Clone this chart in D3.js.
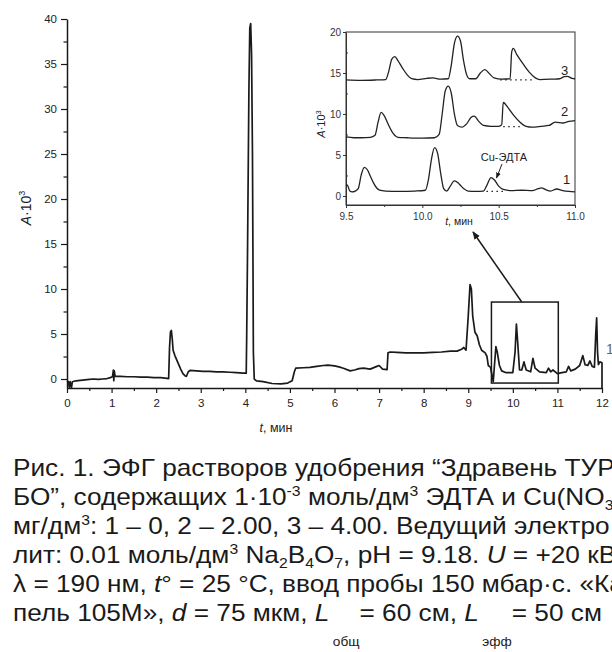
<!DOCTYPE html>
<html><head><meta charset="utf-8">
<script src="https://cdn.jsdelivr.net/npm/d3@7"></script>
<style>
body{margin:0;background:#fff;}
svg{display:block;font-family:"Liberation Sans",Arial,sans-serif;}
</style></head>
<body>
<svg id="c" width="612" height="652"></svg>
<script>
// ---- Data ----
const mainTrace = [
[0.00,-0.2],[0.03,-0.3],[0.05,-0.9],[0.07,-0.3],[0.10,-1.0],[0.12,-0.3],[0.2,-0.2],[0.3,-0.15],[0.4,-0.1],[0.5,-0.05],[0.6,0.0],[0.7,-0.05],[0.8,0.0],[0.9,0.05],[0.97,0.15],[1.02,0.25],[1.04,1.0],[1.05,-0.2],[1.06,0.9],[1.08,0.3],[1.2,0.3],[1.35,0.25],[1.5,0.25],[1.65,0.2],[1.8,0.2],[1.95,0.15],[2.1,0.15],[2.2,0.1],[2.28,0.05],[2.30,3.5],[2.32,5.2],[2.34,5.4],[2.36,4.5],[2.38,3.2],[2.42,2.6],[2.48,1.9],[2.55,1.1],[2.60,0.6],[2.65,0.35],[2.68,0.3],[2.72,0.8],[2.76,0.95],[2.9,0.9],[3.05,0.85],[3.2,0.85],[3.35,0.8],[3.5,0.8],[3.65,0.75],[3.8,0.7],[3.95,0.65],[4.02,0.65],[4.03,4.5],[4.05,14.5],[4.08,32],[4.10,39],[4.12,39.5],[4.14,36],[4.16,25],[4.17,14.5],[4.18,3],[4.20,0.0],[4.25,-0.2],[4.4,-0.3],[4.6,-0.5],[4.8,-0.55],[4.95,-0.45],[5.05,-0.2],[5.10,0.8],[5.13,1.2],[5.3,1.25],[5.45,1.3],[5.6,1.4],[5.75,1.5],[5.85,1.55],[6.0,1.45],[6.1,1.35],[6.2,1.2],[6.35,0.9],[6.45,1.0],[6.55,1.15],[6.65,1.2],[6.8,1.1],[6.95,1.4],[7.0,1.5],[7.08,1.1],[7.18,1.05],[7.20,2.9],[7.25,3.0],[7.4,2.95],[7.6,2.9],[7.8,2.9],[8.0,2.9],[8.2,2.95],[8.4,3.0],[8.6,3.1],[8.75,3.1],[8.85,3.3],[8.9,3.5],[8.95,3.2],[9.0,7.0],[9.04,10.5],[9.07,10.0],[9.10,7.0],[9.15,5.2],[9.20,4.8],[9.25,3.8],[9.30,3.2],[9.38,2.9],[9.42,2.5],[9.45,1.5],[9.50,1.3],[9.53,0.5],[9.56,-0.3],[9.58,1.0],[9.62,3.6],[9.65,3.0],[9.70,1.5],[9.75,0.9],[9.85,0.7],[10.0,0.7],[10.05,3.0],[10.08,6.1],[10.11,4.0],[10.15,1.0],[10.20,1.0],[10.25,1.9],[10.30,1.0],[10.40,0.8],[10.45,2.3],[10.50,1.2],[10.60,0.8],[10.75,0.7],[10.80,1.2],[10.85,0.8],[10.90,1.0],[11.0,0.6],[11.1,0.7],[11.2,0.8],[11.25,1.4],[11.30,0.9],[11.40,1.1],[11.50,1.5],[11.57,2.6],[11.62,1.6],[11.68,1.5],[11.73,2.0],[11.78,1.4],[11.83,1.3],[11.86,5.0],[11.88,6.8],[11.90,3.0],[11.92,1.6],[11.95,1.9],[12.0,1.8],[12.0,-1.0]
];
const inset1 = [
[9.50,1.4],[9.51,1.3],[9.525,0.6],[9.54,0.5],[9.56,0.6],[9.58,0.9],[9.60,2.6],[9.62,3.5],[9.64,3.2],[9.66,2.4],[9.68,1.6],[9.70,1.0],[9.72,0.7],[9.76,0.6],[9.85,0.55],[9.95,0.6],[10.02,0.7],[10.04,2.0],[10.06,4.5],[10.08,5.9],[10.10,5.2],[10.12,2.8],[10.14,0.9],[10.16,0.6],[10.18,1.1],[10.21,1.85],[10.24,1.5],[10.27,0.9],[10.30,0.6],[10.35,0.55],[10.40,0.6],[10.42,1.2],[10.45,2.25],[10.47,2.0],[10.50,1.2],[10.53,0.8],[10.58,0.65],[10.65,0.7],[10.72,0.65],[10.76,0.9],[10.78,1.0],[10.81,0.75],[10.84,0.6],[10.88,0.85],[10.92,0.65],[10.96,0.55],[11.0,0.5]
];
const inset2 = [
[9.50,7.2],[9.55,7.1],[9.60,7.1],[9.66,7.15],[9.69,7.4],[9.71,9.0],[9.73,10.2],[9.75,9.8],[9.78,8.6],[9.81,7.6],[9.84,7.15],[9.90,7.1],[10.0,7.05],[10.08,7.1],[10.11,7.5],[10.13,10.0],[10.15,12.8],[10.17,13.4],[10.19,12.5],[10.21,10.0],[10.23,8.6],[10.26,8.4],[10.29,8.8],[10.32,9.6],[10.34,9.75],[10.37,9.1],[10.40,8.6],[10.45,8.5],[10.50,8.5],[10.52,8.7],[10.53,11.4],[10.56,10.8],[10.60,9.8],[10.64,9.0],[10.68,8.5],[10.72,8.4],[10.78,8.5],[10.83,8.6],[10.87,9.0],[10.92,8.9],[10.96,9.1],[11.0,9.2]
];
const inset3 = [
[9.50,14.15],[9.60,14.1],[9.70,14.15],[9.76,14.2],[9.78,15.2],[9.80,16.7],[9.82,17.0],[9.84,16.5],[9.87,15.6],[9.90,14.8],[9.93,14.3],[9.97,14.2],[10.03,14.35],[10.07,14.4],[10.12,14.25],[10.17,14.3],[10.19,16.0],[10.21,18.6],[10.23,19.5],[10.25,18.9],[10.27,16.5],[10.29,14.8],[10.31,14.3],[10.35,14.3],[10.38,15.0],[10.41,15.4],[10.44,14.9],[10.47,14.4],[10.52,14.25],[10.575,14.3],[10.585,17.5],[10.595,18.0],[10.62,17.2],[10.66,16.1],[10.70,15.1],[10.74,14.4],[10.77,14.2],[10.85,14.25],[10.90,14.3],[10.93,14.55],[10.95,14.6],[10.98,14.35],[11.0,14.3]
];
const insetSeries = [inset1, inset2, inset3];
const insetLabels = ["1","2","3"];
const dottedBase = [[10.42,10.53,0.55],[10.53,10.64,8.45],[10.51,10.72,14.15]];
const mainYTicks = [0,5,10,15,20,25,30,35,40];
const mainXTicks = [0,1,2,3,4,5,6,7,8,9,10,11,12];
const insetYTicks = [0,5,10,15,20];
const insetXTicks = [9.5,10.0,10.5,11.0];
const zoomBox = {t0:9.52, t1:11.02, a0:-0.45, a1:8.55};

// caption lines: segments [kind, text]; n=normal, i=italic, p=superscript, b=subscript, s=low subscript
const captionLines = [
  [["n","Рис. 1. ЭФГ растворов удобрения “Здравень ТУР"]],
  [["n","БО”, содержащих 1·10"],["p","-3"],["n"," моль/дм"],["p","3"],["n"," ЭДТА и Cu(NO"],["b","3"],["n",")"],["b","2"]],
  [["n","мг/дм"],["p","3"],["n",": 1 – 0, 2 – 2.00, 3 – 4.00.   Ведущий электро"]],
  [["n","лит: 0.01 моль/дм"],["p","3"],["n"," Na"],["b","2"],["n","B"],["b","4"],["n","O"],["b","7"],["n",", pH = 9.18. "],["i","U"],["n"," = +20 кВ"]],
  [["n","λ = 190 нм, "],["i","t"],["n","° = 25 °C, ввод пробы 150 мбар·с. «Ка"]],
  [["n","пель 105М», "],["i","d"],["n"," = 75 мкм, "],["i","L"],["s","общ"],["n","= 60 см, "],["i","L"],["s","эфф"],["n","= 50 см"]]
];

// ---- Setup ----
const svg = d3.select("#c");
const ink = "#1a1a1a";

const x = d3.scaleLinear().domain([0,12]).range([67,602]);
const y = d3.scaleLinear().domain([-1,40]).range([388,19]);

const gx = svg.append("g").attr("transform","translate(0,388)")
  .call(d3.axisBottom(x).tickValues(mainXTicks).tickSize(5).tickSizeOuter(0).tickFormat(d3.format("d")));
svg.append("g").attr("transform","translate(0,388)")
  .call(d3.axisBottom(x).tickValues(d3.range(0.5,12,1)).tickSize(3).tickFormat("")).select(".domain").remove();
const gy = svg.append("g").attr("transform","translate(67,0)")
  .call(d3.axisLeft(y).tickValues(mainYTicks).tickSize(6).tickSizeOuter(0).tickFormat(d3.format("d")));
svg.append("g").attr("transform","translate(67,0)")
  .call(d3.axisLeft(y).tickValues(d3.range(2.5,40,5)).tickSize(3.5).tickFormat("")).select(".domain").remove();
svg.selectAll(".tick line").attr("stroke",ink).attr("stroke-width",1.2);
svg.selectAll(".domain").attr("stroke",ink).attr("stroke-width",1.5);
gx.selectAll("text").attr("font-size",11.5).attr("fill","#222").attr("dy","0.95em");
gy.selectAll("text").attr("font-size",11.5).attr("fill","#222").attr("x",-10);
svg.selectAll(".tick text").attr("font-family","Liberation Sans, Arial, sans-serif");

svg.append("path").datum(mainTrace)
  .attr("d", d3.line().x(d=>x(d[0])).y(d=>y(d[1])))
  .attr("fill","none").attr("stroke",ink).attr("stroke-width",1.7).attr("stroke-linejoin","round");

const yl = svg.append("text").attr("transform","translate(31,208) rotate(-90)")
  .attr("text-anchor","middle").attr("font-size",14).attr("fill","#222");
yl.append("tspan").attr("font-style","italic").text("A");
yl.append("tspan").text("·10");
yl.append("tspan").attr("font-size",9).attr("dy",-6).text("3");

const xl = svg.append("text").attr("x",276).attr("y",432).attr("text-anchor","middle").attr("font-size",12.5).attr("fill","#222");
xl.append("tspan").attr("font-style","italic").text("t");
xl.append("tspan").text(", мин");

svg.append("rect").attr("x",x(zoomBox.t0)).attr("y",y(zoomBox.a1))
  .attr("width",x(zoomBox.t1)-x(zoomBox.t0)).attr("height",y(zoomBox.a0)-y(zoomBox.a1))
  .attr("fill","none").attr("stroke",ink).attr("stroke-width",1.5);
svg.append("defs").html('<marker id="ah" viewBox="0 0 10 10" refX="9" refY="5" markerWidth="8" markerHeight="8" orient="auto" markerUnits="userSpaceOnUse"><path d="M0,1 L10,5 L0,9 z" fill="#1a1a1a"/></marker>'+
 '<marker id="ah2" viewBox="0 0 10 10" refX="9" refY="5" markerWidth="6" markerHeight="6" orient="auto" markerUnits="userSpaceOnUse"><path d="M0,1 L10,5 L0,9 z" fill="#1a1a1a"/></marker>');
svg.append("line").attr("x1",x(10.2)).attr("y1",y(zoomBox.a1)).attr("x2",473).attr("y2",232)
  .attr("stroke",ink).attr("stroke-width",1.5).attr("marker-end","url(#ah)");

// ---- Inset ----
const ix = d3.scaleLinear().domain([9.5,11.0]).range([346,575]);
const iy = d3.scaleLinear().domain([-1.1,20]).range([205,32]);
const ig = svg.append("g");
ig.append("rect").attr("x",346).attr("y",32).attr("width",229).attr("height",173)
  .attr("fill","none").attr("stroke","#333").attr("stroke-width",1);
const igx = ig.append("g").attr("transform","translate(0,205)")
  .call(d3.axisBottom(ix).tickValues(insetXTicks).tickSize(3).tickSizeOuter(0).tickFormat(d3.format(".1f")));
ig.append("g").attr("transform","translate(0,205)")
  .call(d3.axisBottom(ix).tickValues([9.75,10.25,10.75]).tickSize(2).tickFormat("")).select(".domain").remove();
const igy = ig.append("g").attr("transform","translate(346,0)")
  .call(d3.axisLeft(iy).tickValues(insetYTicks).tickSize(3).tickSizeOuter(0).tickFormat(d3.format("d")));
ig.append("g").attr("transform","translate(346,0)")
  .call(d3.axisLeft(iy).tickValues([2.5,7.5,12.5,17.5]).tickSize(-2).tickFormat("")).select(".domain").remove();
ig.selectAll(".domain").attr("stroke","#333").attr("stroke-width",1);
ig.selectAll(".tick line").attr("stroke","#333").attr("stroke-width",1);
igx.selectAll("text").attr("font-size",10).attr("fill","#333").attr("dy","0.85em");
igy.selectAll("text").attr("font-size",10).attr("fill","#333").attr("x",-5);

const iline = d3.line().x(d=>ix(d[0])).y(d=>iy(d[1])).curve(d3.curveMonotoneX);
insetSeries.forEach(s=>{
  ig.append("path").datum(s).attr("d",iline).attr("fill","none").attr("stroke","#222").attr("stroke-width",1.3);
});
dottedBase.forEach(d=>{
  ig.append("line").attr("x1",ix(d[0])).attr("x2",ix(d[1])).attr("y1",iy(d[2])).attr("y2",iy(d[2]))
    .attr("stroke","#222").attr("stroke-width",1.2).attr("stroke-dasharray","1.5,3.5");
});
const labelPos = [[563,184],[561,116],[561,75]];
insetLabels.forEach((l,i)=>{
  ig.append("text").attr("x",labelPos[i][0]).attr("y",labelPos[i][1]).attr("font-size",13).attr("fill","#222").text(l);
});
ig.append("text").attr("x",504).attr("y",161).attr("text-anchor","middle").attr("font-size",11).attr("fill","#222").text("Cu-ЭДТА");
ig.append("line").attr("x1",502).attr("y1",164).attr("x2",496.5).attr("y2",178)
  .attr("stroke","#222").attr("stroke-width",1).attr("marker-end","url(#ah2)");
const iyl = ig.append("text").attr("transform","translate(325,124) rotate(-90)").attr("text-anchor","middle").attr("font-size",11).attr("fill","#222");
iyl.append("tspan").attr("font-style","italic").text("A");
iyl.append("tspan").text("·10");
iyl.append("tspan").attr("font-size",7.5).attr("dy",-4.5).text("3");
const ixl = ig.append("text").attr("x",459).attr("y",225).attr("text-anchor","middle").attr("font-size",10.5).attr("fill","#222");
ixl.append("tspan").attr("font-style","italic").text("t");
ixl.append("tspan").text(", мин");

svg.append("text").attr("x",606).attr("y",354).attr("font-size",14).attr("fill","#666").text("1");

// ---- Caption ----
const fs = 23, sx = 1.14;
const cap = svg.append("g").attr("transform",`scale(${sx},1)`).attr("font-size",fs).attr("fill","#1a1a1a");
captionLines.forEach((segs,li)=>{
  const t = cap.append("text").attr("x",13/sx).attr("y",476+li*29);
  let off = 0;
  segs.forEach(([k,s])=>{
    let target = 0, size = null;
    if(k==="p"){ target=-fs*0.38; size=fs*0.6; }
    else if(k==="b"){ target=fs*0.22; size=fs*0.6; }
    else if(k==="s"){ target=25; size=12; }
    const ts = t.append("tspan").attr("dy", target-off).text(s);
    off = target;
    if(size) ts.attr("font-size",size);
    if(k==="i") ts.attr("font-style","italic");
    if(k==="s") ts.attr("dx",3);
  });
});
</script>
</body></html>
